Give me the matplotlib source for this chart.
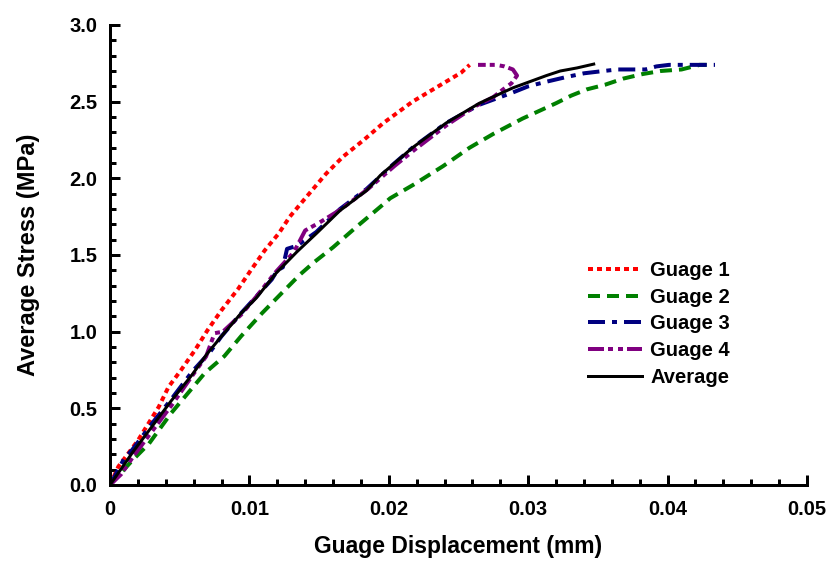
import numpy as np
import matplotlib
matplotlib.use('Agg')
import matplotlib.pyplot as plt
from matplotlib.ticker import FixedLocator, MultipleLocator

plt.rcParams['font.family'] = ['Liberation Sans', 'DejaVu Sans']
plt.rcParams['font.weight'] = 'bold'
plt.rcParams['lines.scale_dashes'] = False

# Guage 1
g1_x = [0, 0.0006, 0.0020, 0.0035, 0.0042, 0.0051, 0.0061, 0.0070, 0.0080, 0.0092,
        0.0101, 0.0111, 0.0121, 0.0129, 0.0141, 0.0155, 0.0167, 0.0182, 0.0196, 0.0205,
        0.0217, 0.0229, 0.0241, 0.0252, 0.0258]
g1_y = [0, 0.12, 0.29, 0.51, 0.64, 0.75, 0.88, 1.01, 1.14, 1.28,
        1.40, 1.53, 1.64, 1.75, 1.88, 2.03, 2.14, 2.25, 2.36, 2.42,
        2.50, 2.565, 2.63, 2.69, 2.74]

# Guage 2
g2_x = [0, 0.0016, 0.0028, 0.0044, 0.0056, 0.0068, 0.0082, 0.0094, 0.0109, 0.0123,
        0.0136, 0.0146, 0.0160, 0.0177, 0.0194, 0.0201, 0.0218, 0.0239, 0.0258, 0.0275,
        0.0296, 0.0320, 0.0331, 0.0342, 0.0355, 0.0368, 0.0382, 0.0395, 0.0410, 0.0423,
        0.0428]
g2_y = [0, 0.16, 0.27, 0.47, 0.60, 0.73, 0.84, 0.97, 1.12, 1.25,
        1.37, 1.45, 1.55, 1.685, 1.815, 1.87, 1.96, 2.08, 2.20, 2.29,
        2.39, 2.49, 2.54, 2.58, 2.61, 2.65, 2.68, 2.70, 2.71, 2.74,
        2.74]

# Guage 3
g3_x = [0, 0.0010, 0.0016, 0.0030, 0.0044, 0.0059, 0.0072, 0.0080, 0.0094, 0.0107,
        0.0116, 0.0120, 0.0124, 0.0127, 0.0134, 0.0148, 0.0165, 0.0184, 0.0203, 0.0217,
        0.0241, 0.0265, 0.0289, 0.0300, 0.0313, 0.0327, 0.0340, 0.0354, 0.0364, 0.0384,
        0.0392, 0.0401, 0.0411, 0.0434]
g3_y = [0, 0.17, 0.23, 0.40, 0.56, 0.74, 0.87, 0.97, 1.12, 1.25,
        1.34, 1.40, 1.42, 1.54, 1.56, 1.65, 1.80, 1.93, 2.09, 2.20,
        2.36, 2.48, 2.56, 2.60, 2.63, 2.66, 2.685, 2.70, 2.71, 2.71,
        2.73, 2.74, 2.74, 2.74]

# Guage 4
g4_x = [0, 0.0008, 0.0017, 0.0031, 0.0045, 0.0058, 0.0069, 0.0075, 0.0081, 0.0094,
        0.0106, 0.0118, 0.0132, 0.0140, 0.0150, 0.0166, 0.0185, 0.0204, 0.0219, 0.0242,
        0.0262, 0.0275, 0.0282, 0.0288, 0.0292, 0.0289, 0.0283, 0.0277, 0.0264]
g4_y = [0, 0.07, 0.19, 0.36, 0.53, 0.70, 0.84, 0.99, 1.00, 1.11,
        1.24, 1.38, 1.52, 1.66, 1.71, 1.80, 1.93, 2.08, 2.19, 2.35,
        2.47, 2.53, 2.58, 2.62, 2.67, 2.71, 2.73, 2.74, 2.74]

# Average
avg_x = [0, 0.0016, 0.0030, 0.0044, 0.0059, 0.0070, 0.0080, 0.0094, 0.0105, 0.0119,
         0.0134, 0.0148, 0.0165, 0.0184, 0.0194, 0.0203, 0.0217, 0.0241, 0.0265, 0.0289,
         0.0313, 0.0323, 0.0335, 0.0347]
avg_y = [0, 0.21, 0.38, 0.55, 0.72, 0.86, 0.97, 1.12, 1.22, 1.38,
         1.52, 1.64, 1.79, 1.92, 2.02, 2.09, 2.20, 2.36, 2.49, 2.59,
         2.67, 2.70, 2.72, 2.745]

x_ticks = [0, 0.01, 0.02, 0.03, 0.04, 0.05]
x_labels = ['0', '0.01', '0.02', '0.03', '0.04', '0.05']
y_ticks = [0, 0.5, 1.0, 1.5, 2.0, 2.5, 3.0]
y_labels = ['0.0', '0.5', '1.0', '1.5', '2.0', '2.5', '3.0']

fig = plt.figure(figsize=(8.27, 5.61), dpi=100)
ax = fig.add_axes([110/827, 76/561, 697/827, 460/561])

px = 72/100  # points per pixel
l1, = ax.plot(g1_x, g1_y, color='#FF0000', lw=4*px, label='Guage 1')
l1.set_dashes([5*px, 4*px])
l2, = ax.plot(g2_x, g2_y, color='#008000', lw=4*px, label='Guage 2')
l2.set_dashes([12*px, 7*px])
l3, = ax.plot(g3_x, g3_y, color='#000080', lw=4*px, label='Guage 3')
l3.set_dashes([17*px, 7*px, 5*px, 7*px])
l4, = ax.plot(g4_x, g4_y, color='#800080', lw=4*px, label='Guage 4')
l4.set_dashes([16*px, 4*px, 5*px, 5*px, 5*px, 4*px])
ax.plot(avg_x, avg_y, color='black', lw=3*px, label='Average')

ax.set_xlim(0, 0.05)
ax.set_ylim(0, 3.0)
ax.xaxis.set_major_locator(FixedLocator(x_ticks))
ax.set_xticklabels(x_labels)
ax.xaxis.set_minor_locator(MultipleLocator(0.002))
ax.yaxis.set_major_locator(FixedLocator(y_ticks))
ax.set_yticklabels(y_labels)
ax.yaxis.set_minor_locator(MultipleLocator(0.1))

for s in ['top', 'right']:
    ax.spines[s].set_visible(False)
for s in ['left', 'bottom']:
    ax.spines[s].set_linewidth(3*px)
ax.tick_params(which='major', direction='in', length=10*px, width=3*px,
               labelsize=14.5)
ax.tick_params(axis='x', which='major', pad=11)
ax.tick_params(axis='y', which='major', pad=9)
ax.tick_params(which='minor', direction='in', length=6*px, width=3*px)

ax.set_xlabel('Guage Displacement (mm)', fontsize=16.5, fontweight='bold', labelpad=11)
ax.set_ylabel('Average Stress (MPa)', fontsize=17, fontweight='bold', labelpad=21)

leg = ax.legend(loc='upper left', bbox_to_anchor=(588/827, 1 - 261/561),
                bbox_transform=fig.transFigure, frameon=False, borderpad=0,
                borderaxespad=0, handlelength=2.7, handletextpad=0.4,
                labelspacing=0.38, prop={'size': 14.5, 'weight': 'bold'})

fig.savefig('out.png', dpi=100)
